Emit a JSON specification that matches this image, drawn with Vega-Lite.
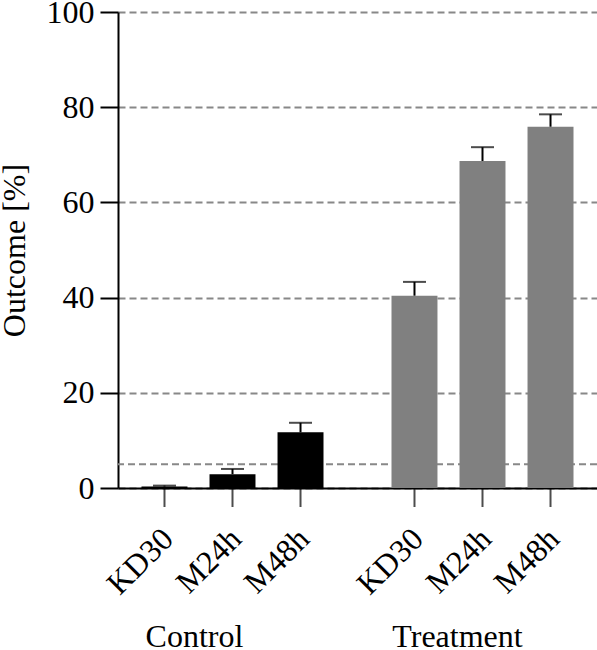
{
  "$schema": "https://vega.github.io/schema/vega-lite/v6.json",
  "width": 479,
  "height": 476,
  "autosize": "none",
  "padding": {"left": 118, "top": 12, "right": 0, "bottom": 162},
  "background": "white",
  "config": {
    "view": {"stroke": null},
    "font": "'Liberation Serif', 'Times New Roman', serif",
    "axis": {
      "labelFont": "'Liberation Serif', 'Times New Roman', serif",
      "titleFont": "'Liberation Serif', 'Times New Roman', serif",
      "labelColor": "black",
      "titleColor": "black",
      "domainColor": "black",
      "domainWidth": 2,
      "tickColor": "black",
      "tickWidth": 2,
      "labelFontSize": 32,
      "titleFontSize": 32,
      "titleFontWeight": "normal"
    }
  },
  "data": {
    "values": [
      {"group": "Control", "time": "KD30", "value": 0.3, "upper": 0.5},
      {"group": "Control", "time": "M24h", "value": 2.9, "upper": 4.0},
      {"group": "Control", "time": "M48h", "value": 11.7, "upper": 13.7},
      {"group": "Treatment", "time": "KD30", "value": 40.4, "upper": 43.3},
      {"group": "Treatment", "time": "M24h", "value": 68.7, "upper": 71.6},
      {"group": "Treatment", "time": "M48h", "value": 75.9, "upper": 78.5}
    ]
  },
  "layer": [
    {
      "data": {"values": [{"ref": 5}]},
      "mark": {"type": "rule", "color": "#888888", "strokeWidth": 2, "strokeDash": [7, 4]},
      "encoding": {"y": {"field": "ref", "type": "quantitative"}}
    },
    {
      "mark": {"type": "bar"},
      "encoding": {
        "x": {
          "field": "group", "type": "nominal", "sort": ["Control", "Treatment"],
          "scale": {"paddingInner": 0.272, "paddingOuter": 0.094},
          "axis": {
            "title": null, "labelAngle": 0, "ticks": false, "tickSize": 0, "labelPadding": 133,
            "labelOffset": {"condition": {"test": "datum.value === 'Control'", "value": -38}, "value": -25},
            "labelBaseline": "top", "labelAlign": "center"
          }
        },
        "xOffset": {
          "field": "time", "type": "nominal", "sort": ["KD30", "M24h", "M48h"],
          "scale": {"paddingInner": 0.324, "paddingOuter": 0}
        },
        "y": {
          "field": "value", "type": "quantitative",
          "scale": {"domain": [0, 100], "nice": false, "zero": true},
          "axis": {
            "title": "Outcome [%]", "values": [0, 20, 40, 60, 80, 100],
            "tickSize": 18, "labelPadding": 6, "titlePadding": 15,
            "labelFlush": false, "labelOverlap": false,
            "grid": true, "gridColor": "#888888", "gridWidth": 2, "gridDash": [7, 4]
          }
        },
        "color": {
          "field": "group", "type": "nominal",
          "scale": {"domain": ["Control", "Treatment"], "range": ["#000000", "#808080"]},
          "legend": null
        }
      }
    },
    {
      "mark": {"type": "rule", "color": "black", "strokeWidth": 2},
      "encoding": {
        "x": {"field": "group", "type": "nominal"},
        "xOffset": {"field": "time", "type": "nominal"},
        "y": {"field": "value", "type": "quantitative"},
        "y2": {"field": "upper"}
      }
    },
    {
      "mark": {"type": "tick", "color": "black", "orient": "horizontal", "size": 23, "thickness": 2},
      "encoding": {
        "x": {"field": "group", "type": "nominal"},
        "xOffset": {"field": "time", "type": "nominal"},
        "y": {"field": "upper", "type": "quantitative"}
      }
    },
    {
      "mark": {"type": "tick", "color": "black", "orient": "vertical", "size": 19, "thickness": 2, "yOffset": 9.5},
      "encoding": {
        "x": {"field": "group", "type": "nominal"},
        "xOffset": {"field": "time", "type": "nominal"},
        "y": {"datum": 0, "type": "quantitative"}
      }
    },
    {
      "mark": {"type": "text", "color": "black", "font": "'Liberation Serif', 'Times New Roman', serif", "fontSize": 32, "angle": 315, "align": "right", "baseline": "alphabetic", "dx": -30, "dy": 45},
      "encoding": {
        "x": {"field": "group", "type": "nominal"},
        "xOffset": {"field": "time", "type": "nominal"},
        "y": {"datum": 0, "type": "quantitative"},
        "text": {"field": "time"}
      }
    }
  ]
}
